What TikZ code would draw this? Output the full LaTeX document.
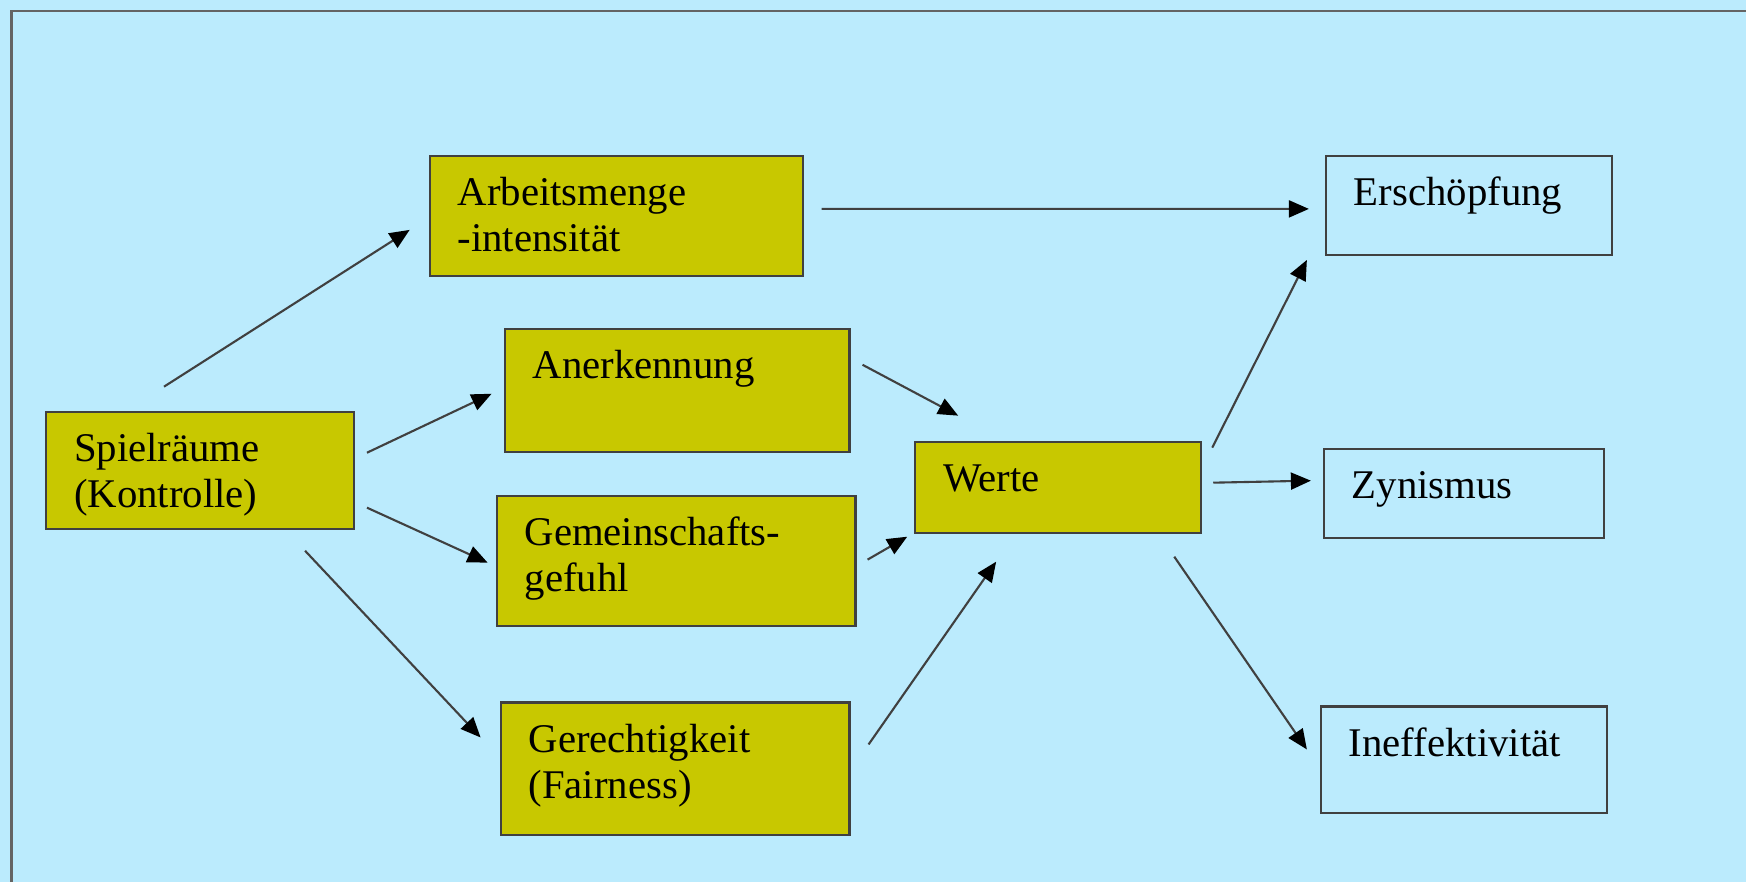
\documentclass[tikz,border=0pt]{standalone}
\usepackage{fontspec}
\setmainfont{Liberation Serif}
\usetikzlibrary{arrows.meta}
\definecolor{sky}{RGB}{187,235,253}
\definecolor{boxyellow}{RGB}{200,200,0}
\definecolor{framegray}{RGB}{100,100,100}

\tikzset{
  cell/.style={draw=black!75, line width=0.6pt, anchor=north west, align=left,
    inner xsep=0.28cm, inner ysep=0.1cm, text height=0.4cm,
    font=\fontsize{11.6}{13.1}\selectfont},
  ycell/.style={cell, fill=boxyellow},
  bcell/.style={cell, fill=sky},
  arr/.style={draw=black!75, line width=0.6pt,
    -{Triangle[length=0.2cm,width=0.17cm,color=black]}}
}

\begin{document}
\begin{tikzpicture}[x=0.01cm,y=-0.01cm]

\fill[sky] (0,0) rectangle (1747,883);
\draw[framegray, line width=0.85pt] (1747,11) -- (12,11) -- (12,883);

% left column
\node[ycell, text width=2.52cm, text depth=0.57cm] (spiel) at (45,411) {Spielräume\\(Kontrolle)};

% middle column
\node[ycell, text width=3.17cm, text depth=0.60cm] (arbeit) at (429,155) {Arbeitsmenge\\-intensität};
\node[ycell, text width=2.89cm, text depth=0.63cm] (anerk) at (504,328) {Anerkennung};
\node[ycell, text width=3.03cm, text depth=0.70cm] (gemein) at (496,495) {Gemeinschafts-\\gefuhl};
\node[ycell, text width=2.93cm, text depth=0.73cm] (gerecht) at (500,702) {Gerechtigkeit\\(Fairness)};
\node[ycell, text width=2.30cm, text depth=0.31cm] (werte) at (915,441) {Werte};

% right column
\node[bcell, text width=2.30cm, text depth=0.39cm] (ersch) at (1326,155) {Erschöpfung};
\node[bcell, text width=2.24cm, text depth=0.29cm] (zyn) at (1324,448) {Zynismus};
\node[bcell, text width=2.30cm, text depth=0.47cm] (ineff) at (1321,706) {Ineffektivität};

% arrows
\draw[arr] ([shift={(-36,-24)}]spiel.north) -- ([shift={(-19,14)}]arbeit.west);
\draw[arr] ([shift={(12,-17.5)}]spiel.east) -- ([shift={(-12,3.5)}]anerk.west);
\draw[arr] ([shift={(12,37.5)}]spiel.east) -- ([shift={(-8,2)}]gemein.west);
\draw[arr] ([shift={(-50,21)}]spiel.south east) -- ([shift={(-19,-31.5)}]gerecht.west);

\draw[arr] ([shift={(18,-7)}]arbeit.east) -- ([shift={(-16,3.5)}]ersch.west);
\draw[arr] ([shift={(12,-25.5)}]anerk.east) -- ([shift={(44,-25)}]werte.north west);
\draw[arr] ([shift={(11,-1)}]gemein.east) -- ([shift={(-7,3)}]werte.south west);
\draw[arr] ([shift={(18,-24.5)}]gerecht.east) -- ([shift={(82,28)}]werte.south west);

\draw[arr] ([shift={(10,7)}]werte.north east) -- ([shift={(-18,4)}]ersch.south west);
\draw[arr] ([shift={(11,-4.5)}]werte.east) -- ([shift={(-12,-12.5)}]zyn.west);
\draw[arr] ([shift={(-28,23)}]werte.south east) -- ([shift={(-13,-10.5)}]ineff.west);
\end{tikzpicture}
\end{document}
